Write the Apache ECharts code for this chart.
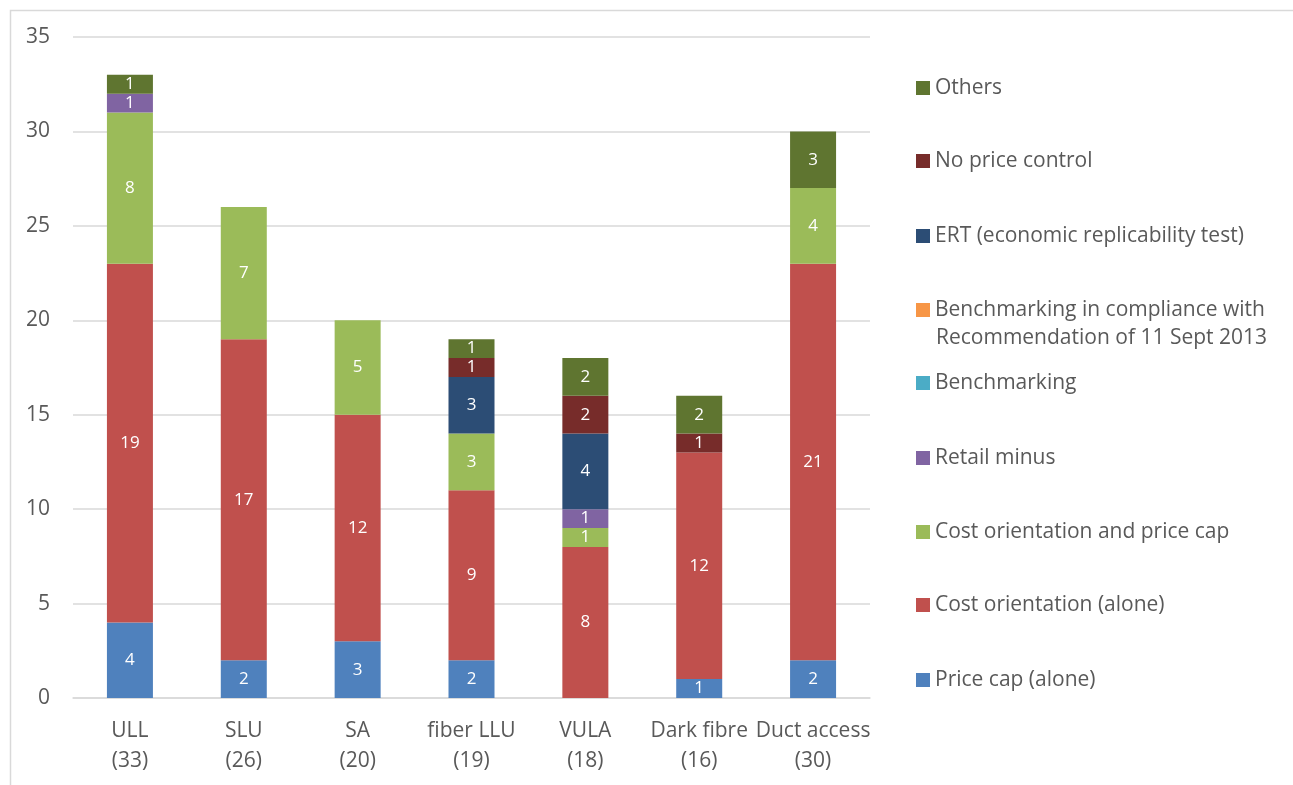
<!DOCTYPE html>
<html>
<head>
<meta charset="utf-8">
<style>
  html, body { margin: 0; padding: 0; background: #fff; }
  #chart { width: 1293px; height: 785px; }
</style>
<script src="https://cdn.jsdelivr.net/npm/echarts@6/dist/echarts.min.js"></script>
</head>
<body>
<div id="chart"></div>
<script>
// Access products and the number of answers per product
const categories = ['ULL\n(33)', 'SLU\n(26)', 'SA\n(20)', 'fiber LLU\n(19)', 'VULA\n(18)', 'Dark fibre\n(16)', 'Duct access\n(30)'];

// Price control remedies, bottom of the stack first
const priceCap            = [4, 2, 3, 2, 0, 1, 2];
const costOrientation     = [19, 17, 12, 9, 8, 12, 21];
const costAndPriceCap     = [8, 7, 5, 3, 1, 0, 4];
const retailMinus         = [1, 0, 0, 0, 1, 0, 0];
const benchmarking        = [0, 0, 0, 0, 0, 0, 0];
const benchmarkingRec     = [0, 0, 0, 0, 0, 0, 0];
const ert                 = [0, 0, 0, 3, 4, 0, 0];
const noPriceControl      = [0, 0, 0, 1, 2, 1, 0];
const others              = [1, 0, 0, 1, 2, 2, 3];

const yTicks = [0, 5, 10, 15, 20, 25, 30, 35];

const seriesDefs = [
  { name: 'Price cap (alone)', data: priceCap, color: '#4F81BD' },
  { name: 'Cost orientation (alone)', data: costOrientation, color: '#C0504D' },
  { name: 'Cost orientation and price cap', data: costAndPriceCap, color: '#9BBB59' },
  { name: 'Retail minus', data: retailMinus, color: '#8064A2' },
  { name: 'Benchmarking', data: benchmarking, color: '#4BACC6' },
  { name: 'Benchmarking in compliance with Recommendation of 11 Sept 2013', data: benchmarkingRec, color: '#F79646' },
  { name: 'ERT (economic replicability test)', data: ert, color: '#2C4D75' },
  { name: 'No price control', data: noPriceControl, color: '#772C2A' },
  { name: 'Others', data: others, color: '#5F7530' }
];

const FONT = '"Open Sans", Lato, sans-serif';
const TEXT = '#595959';
const TEXT_SIZE = 21;
const LEGEND_LINE = 28;

// Legend rows, top to bottom (reverse of stacking order): centre line of each row
const legendRows = { 'Others': 88, 'No price control': 161, 'ERT (economic replicability test)': 236,
  'Benchmarking in compliance with Recommendation of 11 Sept 2013': 310, 'Benchmarking': 383,
  'Retail minus': 458, 'Cost orientation and price cap': 532, 'Cost orientation (alone)': 605,
  'Price cap (alone)': 680 };
const REC_NAME = 'Benchmarking in compliance with Recommendation of 11 Sept 2013';

const legends = seriesDefs.map(s => ({
  data: [s.name],
  left: 916,
  top: legendRows[s.name] - LEGEND_LINE / 2,
  padding: 0,
  itemWidth: 14,
  itemHeight: 14,
  itemGap: 0,
  icon: 'rect',
  selectedMode: false,
  formatter: s.name === REC_NAME ? 'Benchmarking in compliance with' : '{name}',
  textStyle: { color: TEXT, fontSize: TEXT_SIZE, fontFamily: FONT, lineHeight: LEGEND_LINE }
}));

const chart = echarts.init(document.getElementById('chart'), null, { renderer: 'canvas' });
chart.setOption({
  backgroundColor: '#fff',
  animation: false,
  graphic: [{
    type: 'rect', left: 8, top: 8,
    shape: { x: 0, y: 0, width: 1400, height: 900 },
    style: { fill: 'none', stroke: '#D9D9D9', lineWidth: 1.5 },
    silent: true, z: -10
  }, {
    // second line of the long legend entry
    type: 'text', left: 936, top: legendRows[REC_NAME] + LEGEND_LINE - LEGEND_LINE / 2,
    style: { text: 'Recommendation of 11 Sept 2013', fill: TEXT, fontSize: TEXT_SIZE, fontFamily: FONT,
             lineHeight: LEGEND_LINE },
    silent: true
  }],
  grid: { left: 73, right: 423, top: 37, bottom: 87 },
  legend: legends,
  xAxis: {
    type: 'category',
    data: categories,
    axisLine: { lineStyle: { color: '#D9D9D9', width: 1.5 } },
    axisTick: { show: false },
    axisLabel: { color: TEXT, fontSize: TEXT_SIZE, fontFamily: FONT, lineHeight: 30, margin: 18, interval: 0 }
  },
  yAxis: {
    type: 'value',
    min: yTicks[0],
    max: yTicks[yTicks.length - 1],
    interval: yTicks[1] - yTicks[0],
    axisLine: { show: false },
    axisTick: { show: false },
    splitLine: { lineStyle: { color: '#D9D9D9', width: 1.5 } },
    axisLabel: { color: TEXT, fontSize: TEXT_SIZE, fontFamily: FONT, margin: 23 }
  },
  series: seriesDefs.map(s => ({
    type: 'bar',
    name: s.name,
    stack: 'total',
    data: s.data,
    barWidth: 46,
    itemStyle: { color: s.color },
    label: {
      show: true,
      position: 'inside',
      color: '#fff',
      fontSize: 17,
      fontFamily: FONT,
      formatter: p => (p.value ? String(p.value) : '')
    }
  }))
});
</script>
</body>
</html>
